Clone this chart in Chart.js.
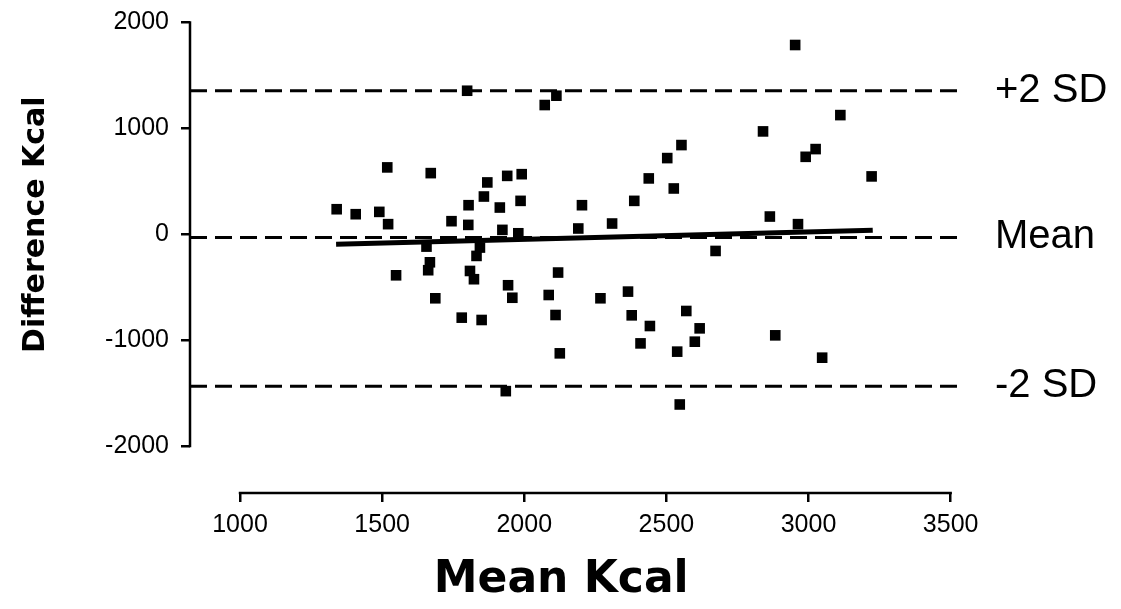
<!DOCTYPE html>
<html><head><meta charset="utf-8">
<script src="https://cdn.jsdelivr.net/npm/chart.js@4.4.1/dist/chart.umd.min.js"></script>
<style>html,body{margin:0;padding:0;background:#fff}#wrap{width:1121px;height:609px;position:relative}</style>
</head><body><div id="wrap"><canvas id="c"></canvas></div>
<script>
// Bland-Altman data
const meanKcal = [1340,1407,1490,1521,1518,1549,1656,1668,1662,1671,1687,1744,1780,1799,1804,1803,1809,1823,1832,1844,1850,1858,1870,1914,1923,1935,1940,1943,1958,1979,1987,1991,2072,2086,2110,2113,2119,2125,2190,2203,2268,2309,2365,2378,2387,2409,2438,2442,2503,2526,2538,2547,2553,2570,2600,2617,2673,2840,2864,2883,2953,2963,2990,3025,3048,3112,3222];
const diffKcal = [236,189,211,95,631,-388,-117,-265,-340,577,-605,123,-788,1355,274,88,-347,-425,-205,-126,-810,356,489,252,41,-1482,551,-482,-600,9,315,567,1220,-574,-763,1308,-362,-1125,54,274,-605,101,-542,-766,315,-1031,527,-867,719,432,-1109,-1608,842,-725,-1015,-889,-158,971,167,-955,1787,95,731,804,-1166,1125,546];
const xTickValues = [1000,1500,2000,2500,3000,3500];
const yTickValues = [-2000,-1000,0,1000,2000];
const limitValues = [1356,-30,-1435];
const limitLabels = ['+2 SD','Mean','-2 SD'];
const regressionX = [1338,3226];
const regressionY = [-95,38];
const xTitle = 'Mean Kcal';
const yTitle = 'Difference Kcal';
const xRange = [824,3540];
const yRange = [-2444,2042];

const tickFont = '"Liberation Sans", Arial, sans-serif';
const points = meanKcal.map((m,i)=>({x:m,y:diffKcal[i]}));
const limitSets = limitValues.map(v=>({
  type:'line', data:[{x:xRange[0],y:v},{x:xRange[1],y:v}],
  borderColor:'#000', borderWidth:3, borderDash:[17,8], pointRadius:0, fill:false
}));

const offsetAxes = {
  id:'offsetAxes',
  afterDraw(chart){
    const {ctx, chartArea, scales} = chart;
    const xs = scales.x, ys = scales.y;
    ctx.save();
    ctx.strokeStyle='#000'; ctx.lineWidth=2.5; ctx.lineCap='square';
    ctx.beginPath();
    ctx.moveTo(xs.getPixelForValue(xTickValues[0]), chartArea.bottom);
    ctx.lineTo(xs.getPixelForValue(xTickValues[xTickValues.length-1]), chartArea.bottom);
    ctx.moveTo(chartArea.left, ys.getPixelForValue(yTickValues[0]));
    ctx.lineTo(chartArea.left, ys.getPixelForValue(yTickValues[yTickValues.length-1]));
    ctx.stroke();
    // axis titles
    ctx.fillStyle='#000';
    ctx.textAlign='center'; ctx.textBaseline='middle';
    ctx.font='bold 44px "DejaVu Sans"';
    ctx.fillText(xTitle, xs.getPixelForValue(2130), 581);
    ctx.translate(36, ys.getPixelForValue(90));
    ctx.rotate(-Math.PI/2);
    ctx.font='bold 30px "DejaVu Sans"';
    ctx.fillText(yTitle, 0, 0);
    ctx.restore();
  }
};
const noPad = s=>{s.paddingTop=0;s.paddingBottom=0;s.paddingLeft=0;s.paddingRight=0;};

new Chart(document.getElementById('c'), {
  type:'scatter',
  data:{datasets:[
    {type:'scatter', data:points, pointStyle:'rect', radius:7.5, backgroundColor:'#000', borderColor:'#000', borderWidth:0},
    {type:'line', data:regressionX.map((x,i)=>({x:x,y:regressionY[i]})), borderColor:'#000', borderWidth:5, pointRadius:0, fill:false},
    ...limitSets
  ]},
  options:{
    responsive:true, maintainAspectRatio:false, animation:false,
    layout:{padding:{left:0,right:0,top:18,bottom:0}},
    plugins:{legend:{display:false}, tooltip:{enabled:false}},
    scales:{
      x:{type:'linear', min:xRange[0], max:xRange[1],
        afterBuildTicks:s=>{s.ticks=xTickValues.map(v=>({value:v}));},
        afterFit:s=>{s.height=116; noPad(s);},
        border:{display:false},
        grid:{drawOnChartArea:false, drawTicks:true, tickLength:9, color:'#000', lineWidth:2.5},
        ticks:{color:'#000', font:{family:tickFont, size:25}, padding:8, maxRotation:0, callback:v=>String(v)},
        title:{display:false, text:xTitle}
      },
      y:{type:'linear', min:yRange[0], max:yRange[1],
        afterBuildTicks:s=>{s.ticks=yTickValues.map(v=>({value:v}));},
        afterFit:s=>{s.width=190; noPad(s);},
        border:{display:false},
        grid:{drawOnChartArea:false, drawTicks:true, tickLength:9, color:'#000', lineWidth:2.5},
        ticks:{color:'#000', font:{family:tickFont, size:25}, padding:12, callback:v=>String(v)},
        title:{display:false, text:yTitle}
      },
      y2:{type:'linear', position:'right', min:yRange[0], max:yRange[1],
        afterBuildTicks:s=>{s.ticks=limitValues.map(v=>({value:v}));},
        afterFit:s=>{s.width=159; noPad(s);},
        border:{display:false},
        grid:{display:false, drawTicks:false},
        ticks:{color:'#000', font:{family:'Liberation Sans', size:40}, padding:33,
          callback:(v)=>{const i=limitValues.indexOf(v); return i>=0?limitLabels[i]:'';}}
      }
    }
  },
  plugins:[offsetAxes]
});
</script>
</body></html>
